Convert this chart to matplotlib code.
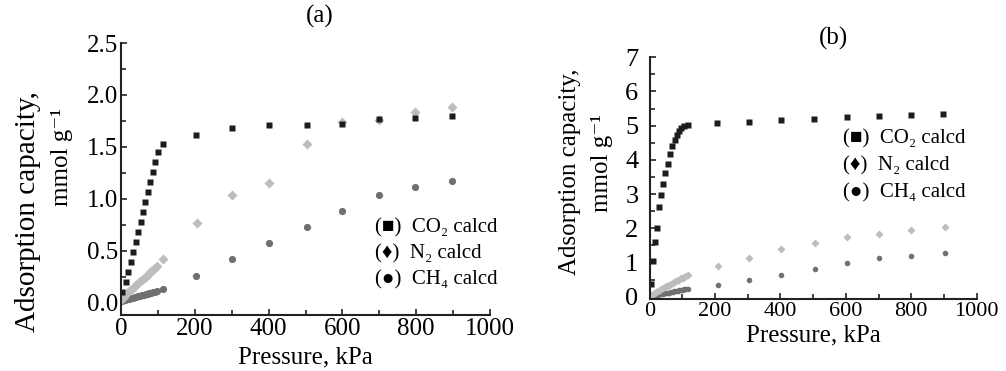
import matplotlib
matplotlib.use("Agg")
import matplotlib.pyplot as plt
from matplotlib.ticker import MultipleLocator, FormatStrFormatter

plt.rcParams['font.family'] = ['Liberation Serif', 'DejaVu Serif', 'DejaVu Sans']

# ---------------- Panel (a) data ----------------
a_co2_p = [4, 13.5, 20, 27, 33, 40, 47, 53, 60, 66, 72, 78.5, 86, 92, 99, 115,
           203, 301, 400, 504, 600, 698, 797, 897]
a_co2_q = [0.10, 0.20, 0.29, 0.39, 0.49, 0.58, 0.68, 0.78, 0.875, 0.97, 1.065, 1.16,
           1.26, 1.355, 1.45, 1.525, 1.615, 1.68, 1.71, 1.71, 1.72, 1.77, 1.78, 1.80]

a_n2_p = [2, 7, 12, 17, 22, 27, 32, 37, 42, 47, 52, 57, 62, 67, 72, 77, 82, 87, 92, 97,
          115, 206, 302, 402, 504, 600, 700, 797, 897]
a_n2_q = [0.03, 0.05, 0.07, 0.09, 0.11, 0.12, 0.14, 0.16, 0.17, 0.19, 0.21, 0.22, 0.24,
          0.25, 0.27, 0.28, 0.30, 0.31, 0.33, 0.35, 0.42, 0.77, 1.04, 1.15, 1.53, 1.74,
          1.76, 1.84, 1.88]

a_ch4_p = [2, 7, 12, 17, 22, 27, 32, 37, 42, 47, 52, 57, 62, 67, 72, 77, 82, 87, 92, 97,
           115, 203, 301, 400, 504, 600, 698, 797, 897]
a_ch4_q = [0.015, 0.02, 0.025, 0.03, 0.035, 0.04, 0.045, 0.05, 0.055, 0.06, 0.065, 0.07,
           0.075, 0.08, 0.085, 0.09, 0.095, 0.10, 0.105, 0.11, 0.13, 0.26, 0.42, 0.57,
           0.73, 0.885, 1.035, 1.11, 1.17]

# ---------------- Panel (b) data ----------------
b_co2_p = [4.6, 9.7, 17, 22, 30, 36, 42, 48, 55.6, 62.7, 69.7, 77, 83, 90, 97, 106, 117,
           207, 304, 402, 504, 603, 702, 799, 898]
b_co2_q = [0.37, 1.05, 1.61, 2.0, 2.63, 2.97, 3.30, 3.63, 3.88, 4.17, 4.41, 4.58, 4.72,
           4.84, 4.94, 5.0, 5.02, 5.07, 5.12, 5.16, 5.19, 5.25, 5.28, 5.31, 5.34]

b_n2_p = [1, 6, 11, 16, 21, 26, 31, 36, 41, 46, 51, 56, 61, 66, 71, 76, 81, 86, 91, 96,
          101, 106, 111, 117, 210, 304, 403, 506, 603, 702, 799, 903]
b_n2_q = [0.01, 0.04, 0.07, 0.10, 0.13, 0.16, 0.19, 0.22, 0.24, 0.27, 0.30, 0.32, 0.35,
          0.37, 0.40, 0.43, 0.45, 0.48, 0.50, 0.53, 0.55, 0.58, 0.60, 0.63, 0.90, 1.12,
          1.38, 1.58, 1.74, 1.83, 1.95, 2.05]

b_ch4_p = [1, 6, 11, 16, 21, 26, 31, 36, 41, 46, 51, 56, 61, 66, 71, 76, 81, 86, 91, 96,
           101, 106, 111, 117, 210, 304, 402, 506, 603, 702, 799, 903]
b_ch4_q = [0.005, 0.015, 0.025, 0.035, 0.045, 0.055, 0.065, 0.075, 0.085, 0.095, 0.105,
           0.115, 0.12, 0.13, 0.14, 0.15, 0.16, 0.17, 0.18, 0.19, 0.20, 0.21, 0.22, 0.23,
           0.34, 0.49, 0.63, 0.81, 0.98, 1.12, 1.19, 1.27]

legend_labels = ["(\u25a0)  CO\u2082 calcd", "(\u2666)  N\u2082 calcd", "(\u25cf)  CH\u2084 calcd"]
x_label = "Pressure, kPa"
y_label_1 = "Adsorption capacity,"
y_label_2 = "mmol g\u207b\u00b9"

C_CO2 = '#1c1c1c'
C_N2 = '#bdbdbd'
C_CH4 = '#707070'

fig = plt.figure(figsize=(10.06, 3.71), dpi=100)
W, H = 1006, 371


def frac(x0, y0, x1, y1):
    return [x0 / W, 1 - y1 / H, (x1 - x0) / W, (y1 - y0) / H]


axa = fig.add_axes(frac(121, 43, 490, 315))
axb = fig.add_axes(frac(649.5, 57.3, 976.7, 299))


def style(ax, ymaj, ymin, xfs, yfs, ypad):
    for s in ['top', 'right']:
        ax.spines[s].set_visible(False)
    for s in ['left', 'bottom']:
        ax.spines[s].set_linewidth(1.5)
        ax.spines[s].set_color('#222222')
    ax.xaxis.set_major_locator(MultipleLocator(200))
    ax.xaxis.set_minor_locator(MultipleLocator(100))
    ax.yaxis.set_major_locator(MultipleLocator(ymaj))
    ax.yaxis.set_minor_locator(MultipleLocator(ymin))
    ax.tick_params(which='both', direction='in', width=1.2, color='#222222')
    ax.tick_params(which='major', length=4.5)
    ax.tick_params(which='minor', length=3.5)
    ax.tick_params(axis='x', labelsize=xfs, pad=2)
    ax.tick_params(axis='y', labelsize=yfs, pad=ypad)
    ax.set_xlim(0, 1000)


# Panel (a)
axa.plot(a_ch4_p, a_ch4_q, 'o', ms=5.2, color=C_CH4, mec='none')
axa.plot(a_n2_p, a_n2_q, 'D', ms=5.2, color=C_N2, mec='none')
axa.plot(a_co2_p, a_co2_q, 's', ms=5.0, color=C_CO2, mec='none')
style(axa, 0.5, 0.25, 18, 18, 2)
axa.set_ylim(-0.12, 2.5)
axa.yaxis.set_major_formatter(FormatStrFormatter('%.1f'))
axa.set_xlabel(x_label, fontsize=18, labelpad=5)
fig.text(320 / W, 1 - 16 / H, "(a)", fontsize=18, ha='center', va='center')
fig.text(28 / W, 1 - 212 / H, y_label_1, fontsize=21, rotation=90, ha='center', va='center')
fig.text(62 / W, 1 - 157 / H, y_label_2, fontsize=18, rotation=90, ha='center', va='center')
for i, lab in enumerate(legend_labels):
    axa.text((375 - 121) / 369, 1 - (228 + 26 * i - 43) / 272, lab, transform=axa.transAxes,
             fontsize=15, ha='left', va='center')

# Panel (b)
axb.plot(b_ch4_p, b_ch4_q, 'o', ms=4.0, color=C_CH4, mec='none')
axb.plot(b_n2_p, b_n2_q, 'D', ms=4.4, color=C_N2, mec='none')
axb.plot(b_co2_p, b_co2_q, 's', ms=3.8, color=C_CO2, mec='none')
style(axb, 1, 0.5, 16, 19, 8)
axb.set_ylim(-0.07, 7)
axb.set_xlabel(x_label, fontsize=18, labelpad=3)
fig.text(834 / W, 1 - 38 / H, "(b)", fontsize=18, ha='center', va='center')
fig.text(570 / W, 1 - 172 / H, y_label_1, fontsize=18, rotation=90, ha='center', va='center')
fig.text(602 / W, 1 - 163 / H, y_label_2, fontsize=18, rotation=90, ha='center', va='center')
for i, lab in enumerate(legend_labels):
    axb.text((843 - 649.5) / 327.2, 1 - (139 + 27 * i - 57.3) / 241.7, lab, transform=axb.transAxes,
             fontsize=15, ha='left', va='center')

fig.savefig('out.png', dpi=100)
